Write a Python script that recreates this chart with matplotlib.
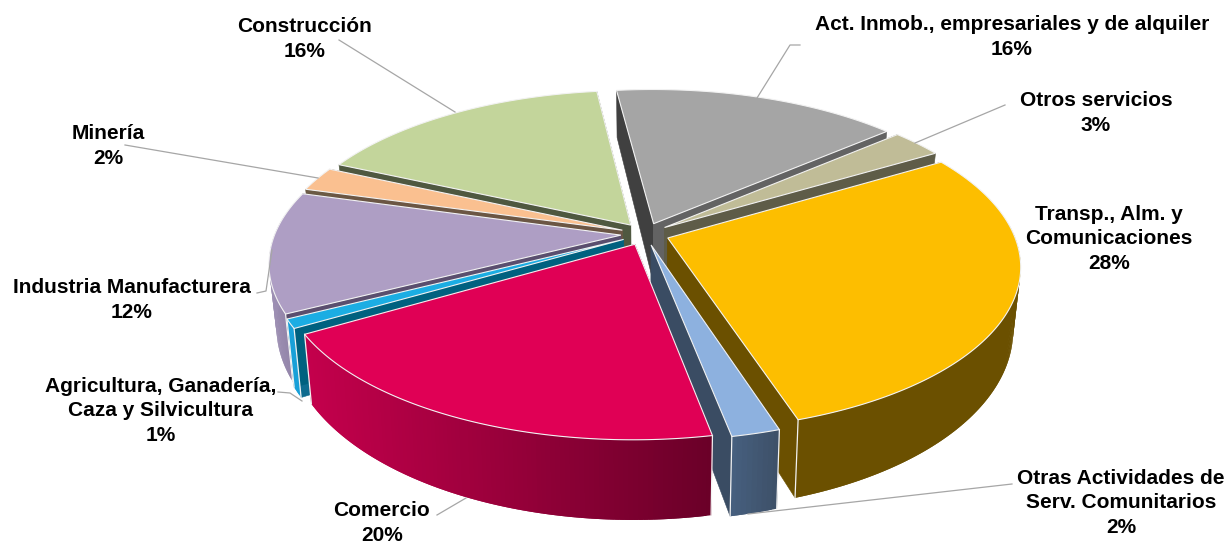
import numpy as np
import matplotlib
matplotlib.use("Agg")
import matplotlib.pyplot as plt
from matplotlib.colors import to_rgb

categories = ["Act. Inmob., empresariales y de alquiler", "Otros servicios",
              "Transp., Alm. y\nComunicaciones", "Otras Actividades de\nServ. Comunitarios",
              "Comercio", "Agricultura, Ganadería,\nCaza y Silvicultura",
              "Industria Manufacturera", "Minería", "Construcción"]
shares = [15.6, 2.8, 28.6, 1.9, 19.6, 0.9, 11.9, 2.4, 16.3]
percent_labels = ["16%", "3%", "28%", "2%", "20%", "1%", "12%", "2%", "16%"]
top_colors = ["#A5A5A5", "#C0BC97", "#FDBE00", "#8DB1DF", "#E00055", "#1BADE3", "#AE9EC4", "#FAC090", "#C3D59B"]
wall_left = ["#9a9a9a", "#77745c", "#6B5000", "#47607F", "#C4004C", "#18A0D8", "#9D8FB3", "#8f6f55", "#6a7450"]
wall_right = ["#7a7a7a", "#77745c", "#6B5000", "#3E5068", "#6A0028", "#18A0D8", "#8A7CA0", "#8f6f55", "#6a7450"]
face_start = ["#404040", "#5e5c45", "#6B5000", "#3A4C63", "#8a0035", "#0F6C8F", "#5A4E6E", "#6b5a45", "#4F5840"]
face_end = ["#636363", "#5E5C48", "#6B5000", "#3A4C63", "#8a0035", "#00617F", "#5A4E6E", "#6B5644", "#4F5840"]
draw_order = [0, 8, 1, 7, 6, 5, 2, 3, 4]

start_angle = -7.0
explode = 0.07
cx, cy, Rx, Ry, p = 645.0, 234.0, 346.0, 159.5, 0.165
H0 = 60.0


def project(u, v):
    d = 1 + p * v
    return cx + Rx * u / d, cy - Ry * v / d


def project_bottom(u, v):
    x, y = project(u, v)
    d = 1 + p * v
    return cx + (x - cx) * 0.98, y + H0 / d ** 1.5


fig = plt.figure(figsize=(12.29, 5.41), dpi=100)
ax = fig.add_axes([0, 0, 1, 1])
ax.set_xlim(0, 1229)
ax.set_ylim(541, 0)
ax.axis("off")

cum = start_angle + np.concatenate([[0], np.cumsum(shares)]) * 3.6
edge = "#f2f2f2"

for z, i in enumerate(draw_order, start=1):
    a0, a1 = np.radians(cum[i]), np.radians(cum[i + 1])
    mid = (a0 + a1) / 2
    ou, ov = explode * np.sin(mid), explode * np.cos(mid)
    th = np.linspace(a0, a1, max(6, int((cum[i + 1] - cum[i]) * 1.5)))
    us, vs = ou + np.sin(th), ov + np.cos(th)
    top = np.array([project(u, v) for u, v in zip(us, vs)])
    bot = np.array([project_bottom(u, v) for u, v in zip(us, vs)])
    at = np.array(project(ou, ov))
    ab = np.array(project_bottom(ou, ov))

    # radial faces
    ax.fill([at[0], top[0, 0], bot[0, 0], ab[0]], [at[1], top[0, 1], bot[0, 1], ab[1]],
            color=face_start[i], lw=0.4, zorder=z)
    ax.fill([at[0], top[-1, 0], bot[-1, 0], ab[0]], [at[1], top[-1, 1], bot[-1, 1], ab[1]],
            color=face_end[i], lw=0.4, zorder=z)
    # outer wall, only where it faces the viewer, shaded left to right on the screen
    xmin, xmax = top[:, 0].min(), top[:, 0].max()
    cl, cr = np.array(to_rgb(wall_left[i])), np.array(to_rgb(wall_right[i]))
    order = np.argsort(top[:-1, 0])[::-1]
    for k in order:
        if np.cos(th[k]) > 0.1:
            continue
        k2 = min(k + 2, len(th) - 1)
        t = ((top[k, 0] + top[k + 1, 0]) / 2 - xmin) / max(xmax - xmin, 1)
        col = cl + (cr - cl) * t
        ax.fill([top[k, 0], top[k + 1, 0], top[k2, 0], bot[k2, 0], bot[k + 1, 0], bot[k, 0]],
                [top[k, 1], top[k + 1, 1], top[k2, 1], bot[k2, 1], bot[k + 1, 1], bot[k, 1]],
                facecolor=col, edgecolor="none", lw=0, zorder=z)
    # light corner lines
    for j in (0, -1):
        if np.cos(th[j]) < 0.1:
            ax.plot([top[j, 0], bot[j, 0]], [top[j, 1], bot[j, 1]], color=edge, lw=0.9, zorder=z)
    ax.fill(np.r_[at[0], top[:, 0]], np.r_[at[1], top[:, 1]], facecolor=top_colors[i],
            edgecolor=edge, lw=0.8, zorder=z)

label_pos = [(1012, 37), (1096, 113), (1109, 239), (1121, 503), (382, 523),
             (161, 411), (132, 300), (108, 146), (305, 39)]
for name, pct, (x, y) in zip(categories, percent_labels, label_pos):
    ax.text(x, y, name + "\n" + pct, ha="center", va="center", fontsize=15,
            fontweight="bold", family="Liberation Sans", color="black",
            linespacing=1.36, zorder=30)

leaders = [([800, 790, 757], [45, 45, 98]), ([1005, 915], [105, 143]),
           ([1012, 748], [484, 514]), ([437, 466], [515, 498]),
           ([278, 290, 302], [392, 393, 401]), ([257, 266, 272], [293, 291, 250]),
           ([125, 318], [145, 178]), ([339, 455], [40, 112])]
for xs, ys in leaders:
    ax.plot(xs, ys, color="#a6a6a6", lw=0.9, zorder=25)

fig.savefig("out.png", dpi=100)
